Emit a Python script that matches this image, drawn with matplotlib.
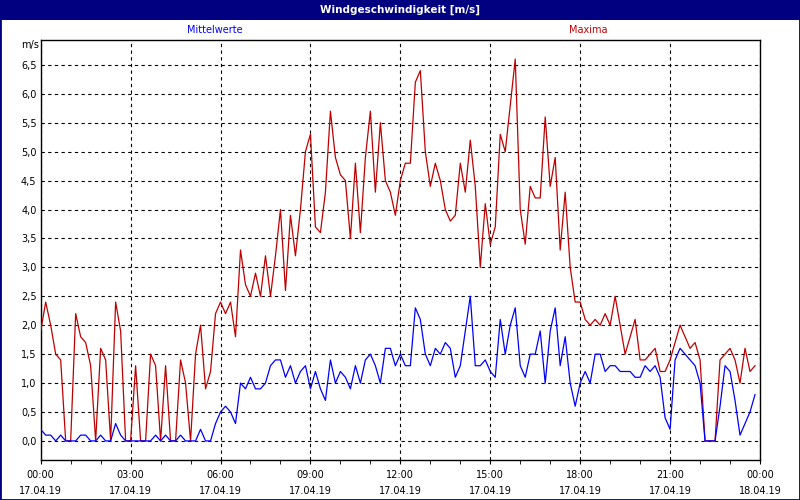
import matplotlib
matplotlib.use("Agg")
import matplotlib.pyplot as plt
import matplotlib.dates as mdates
from matplotlib.patches import Rectangle
from matplotlib.ticker import MultipleLocator, FuncFormatter
import pandas as pd

# 10-Minuten-Werte, 17.04.19 00:00 bis 23:50
maxima = [
    1.9, 2.4, 2.0, 1.5, 1.4, 0.0, 0.0, 2.2, 1.8, 1.7, 1.3, 0.0,
    1.6, 1.4, 0.0, 2.4, 1.9, 0.0, 0.0, 1.3, 0.0, 0.0, 1.5, 1.3,
    0.0, 1.3, 0.0, 0.0, 1.4, 1.0, 0.0, 1.5, 2.0, 0.9, 1.2, 2.2,
    2.4, 2.2, 2.4, 1.8, 3.3, 2.7, 2.5, 2.9, 2.5, 3.2, 2.5, 3.2,
    4.0, 2.6, 3.9, 3.2, 4.0, 5.0, 5.3, 3.7, 3.6, 4.3, 5.7, 4.9,
    4.6, 4.5, 3.5, 4.8, 3.6, 4.9, 5.7, 4.3, 5.5, 4.5, 4.3, 3.9,
    4.5, 4.8, 4.8, 6.2, 6.4, 5.0, 4.4, 4.8, 4.5, 4.0, 3.8, 3.9,
    4.8, 4.3, 5.2, 4.4, 3.0, 4.1, 3.4, 3.7, 5.3, 5.0, 5.8, 6.6,
    4.0, 3.4, 4.4, 4.2, 4.2, 5.6, 4.4, 4.9, 3.3, 4.3, 3.0, 2.4,
    2.4, 2.1, 2.0, 2.1, 2.0, 2.2, 2.0, 2.5, 2.0, 1.5, 1.8, 2.1,
    1.4, 1.4, 1.5, 1.6, 1.2, 1.2, 1.4, 1.7, 2.0, 1.8, 1.6, 1.7,
    1.4, 0.0, 0.0, 0.0, 1.4, 1.5, 1.6, 1.4, 1.0, 1.6, 1.2, 1.3,
]
mittelwerte = [
    0.2, 0.1, 0.1, 0.0, 0.1, 0.0, 0.0, 0.0, 0.1, 0.1, 0.0, 0.0,
    0.1, 0.0, 0.0, 0.3, 0.1, 0.0, 0.0, 0.0, 0.0, 0.0, 0.0, 0.1,
    0.0, 0.1, 0.0, 0.0, 0.1, 0.0, 0.0, 0.0, 0.2, 0.0, 0.0, 0.3,
    0.5, 0.6, 0.5, 0.3, 1.0, 0.9, 1.1, 0.9, 0.9, 1.0, 1.3, 1.4,
    1.4, 1.1, 1.3, 1.0, 1.2, 1.3, 0.9, 1.2, 0.9, 0.7, 1.4, 1.0,
    1.2, 1.1, 0.9, 1.3, 1.0, 1.4, 1.5, 1.3, 1.0, 1.6, 1.6, 1.3,
    1.5, 1.3, 1.3, 2.3, 2.1, 1.5, 1.3, 1.6, 1.5, 1.7, 1.6, 1.1,
    1.3, 1.9, 2.5, 1.3, 1.3, 1.4, 1.2, 1.1, 2.1, 1.5, 2.0, 2.3,
    1.3, 1.1, 1.5, 1.5, 1.9, 1.0, 1.9, 2.3, 1.3, 1.8, 1.0, 0.6,
    1.0, 1.2, 1.0, 1.5, 1.5, 1.2, 1.3, 1.3, 1.2, 1.2, 1.2, 1.1,
    1.1, 1.3, 1.2, 1.3, 1.1, 0.4, 0.2, 1.4, 1.6, 1.5, 1.4, 1.3,
    1.0, 0.0, 0.0, 0.0, 0.6, 1.3, 1.2, 0.7, 0.1, 0.3, 0.5, 0.8,
]
zeit = pd.date_range("2019-04-17 00:00", periods=len(maxima), freq="10min")

navy = "#000080"
rot = "#c00000"
blau = "#0000ff"

fig = plt.figure(figsize=(8, 5), dpi=100)
fig.patch.set_facecolor("white")

# Titelleiste und Rahmen
fig.patches.append(Rectangle((0, 1 - 20 / 500), 1, 20 / 500, transform=fig.transFigure,
                             facecolor=navy, edgecolor="none", zorder=0))
fig.patches.append(Rectangle((0, 0), 1, 1, transform=fig.transFigure, fill=False,
                             edgecolor=navy, linewidth=2, zorder=5))
fig.text(0.5, 1 - 10 / 500, "Windgeschwindigkeit [m/s]", color="white",
         fontweight="bold", fontsize=7.5, ha="center", va="center")
fig.text(215 / 800, 1 - 30 / 500, "Mittelwerte", color=blau, fontsize=7,
         ha="center", va="center")
fig.text(588 / 800, 1 - 30 / 500, "Maxima", color=rot, fontsize=7,
         ha="center", va="center")
fig.text(30 / 800, 1 - 45 / 500, "m/s", color="black", fontsize=7,
         ha="center", va="center")

ax = fig.add_axes([40.7 / 800, 40 / 500, 719.3 / 800, 420 / 500])
ax.set_facecolor("white")

ax.plot(zeit, maxima, color=rot, linewidth=0.9, zorder=3)
ax.plot(zeit, mittelwerte, color=blau, linewidth=0.9, zorder=3)

ax.set_xlim(pd.Timestamp("2019-04-17 00:00"), pd.Timestamp("2019-04-18 00:00"))
ax.set_ylim(-0.33, 6.93)

ax.yaxis.set_major_locator(MultipleLocator(0.5))
ax.yaxis.set_major_formatter(FuncFormatter(lambda v, p: f"{v:.1f}".replace(".", ",")))
ax.xaxis.set_major_locator(mdates.HourLocator(byhour=range(0, 24, 3)))
ax.xaxis.set_minor_locator(mdates.HourLocator())
ax.xaxis.set_major_formatter(mdates.DateFormatter("%H:%M\n%d.%m.%y"))

ax.tick_params(axis="y", length=0, pad=3, labelsize=7)
ax.tick_params(axis="x", which="major", direction="out", length=3, pad=4.5, labelsize=7)
ax.tick_params(axis="x", which="minor", direction="out", length=3)
for lbl in ax.get_xticklabels():
    lbl.set_linespacing(1.65)

ax.grid(True, which="major", color="black", linestyle=(0, (3, 3)), linewidth=0.8)
for s in ax.spines.values():
    s.set_color("black")
    s.set_linewidth(1)

fig.savefig("out.png", dpi=100)
